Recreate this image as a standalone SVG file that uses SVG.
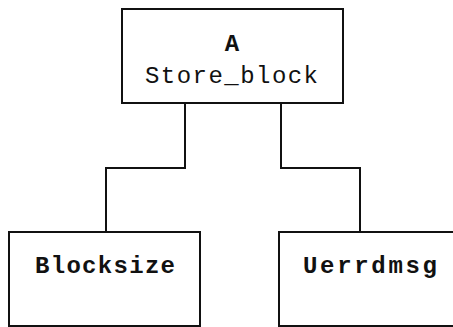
<svg xmlns="http://www.w3.org/2000/svg" width="453" height="327" viewBox="0 0 453 327">
<style>
.box{fill:#fff;stroke:#111;stroke-width:2}
.conn{fill:none;stroke:#111;stroke-width:2}
text{font-family:"Liberation Mono","Courier New",monospace;font-weight:bold;font-size:24px;fill:#111;text-anchor:middle}
.reg{font-weight:normal}
</style>
<rect width="453" height="327" fill="#fff"/>
<g id="connectors">
<path class="conn" d="M185,103 V168 H106 V232"/>
<path class="conn" d="M281,103 V168 H360 V232"/>
</g>
<g id="node-store-block">
<rect class="box" x="122" y="9" width="221" height="94"/>
<text x="232" y="51">A</text>
<text class="reg" x="231.5" y="83" textLength="173" lengthAdjust="spacing">Store_block</text>
</g>
<g id="node-blocksize">
<rect class="box" x="9" y="232" width="191" height="94"/>
<text x="105" y="273" textLength="140" lengthAdjust="spacing">Blocksize</text>
</g>
<g id="node-uerrdmsg">
<rect class="box" x="279" y="232" width="200" height="94"/>
<text x="370" y="273" textLength="134" lengthAdjust="spacing">Uerrdmsg</text>
</g>
</svg>
